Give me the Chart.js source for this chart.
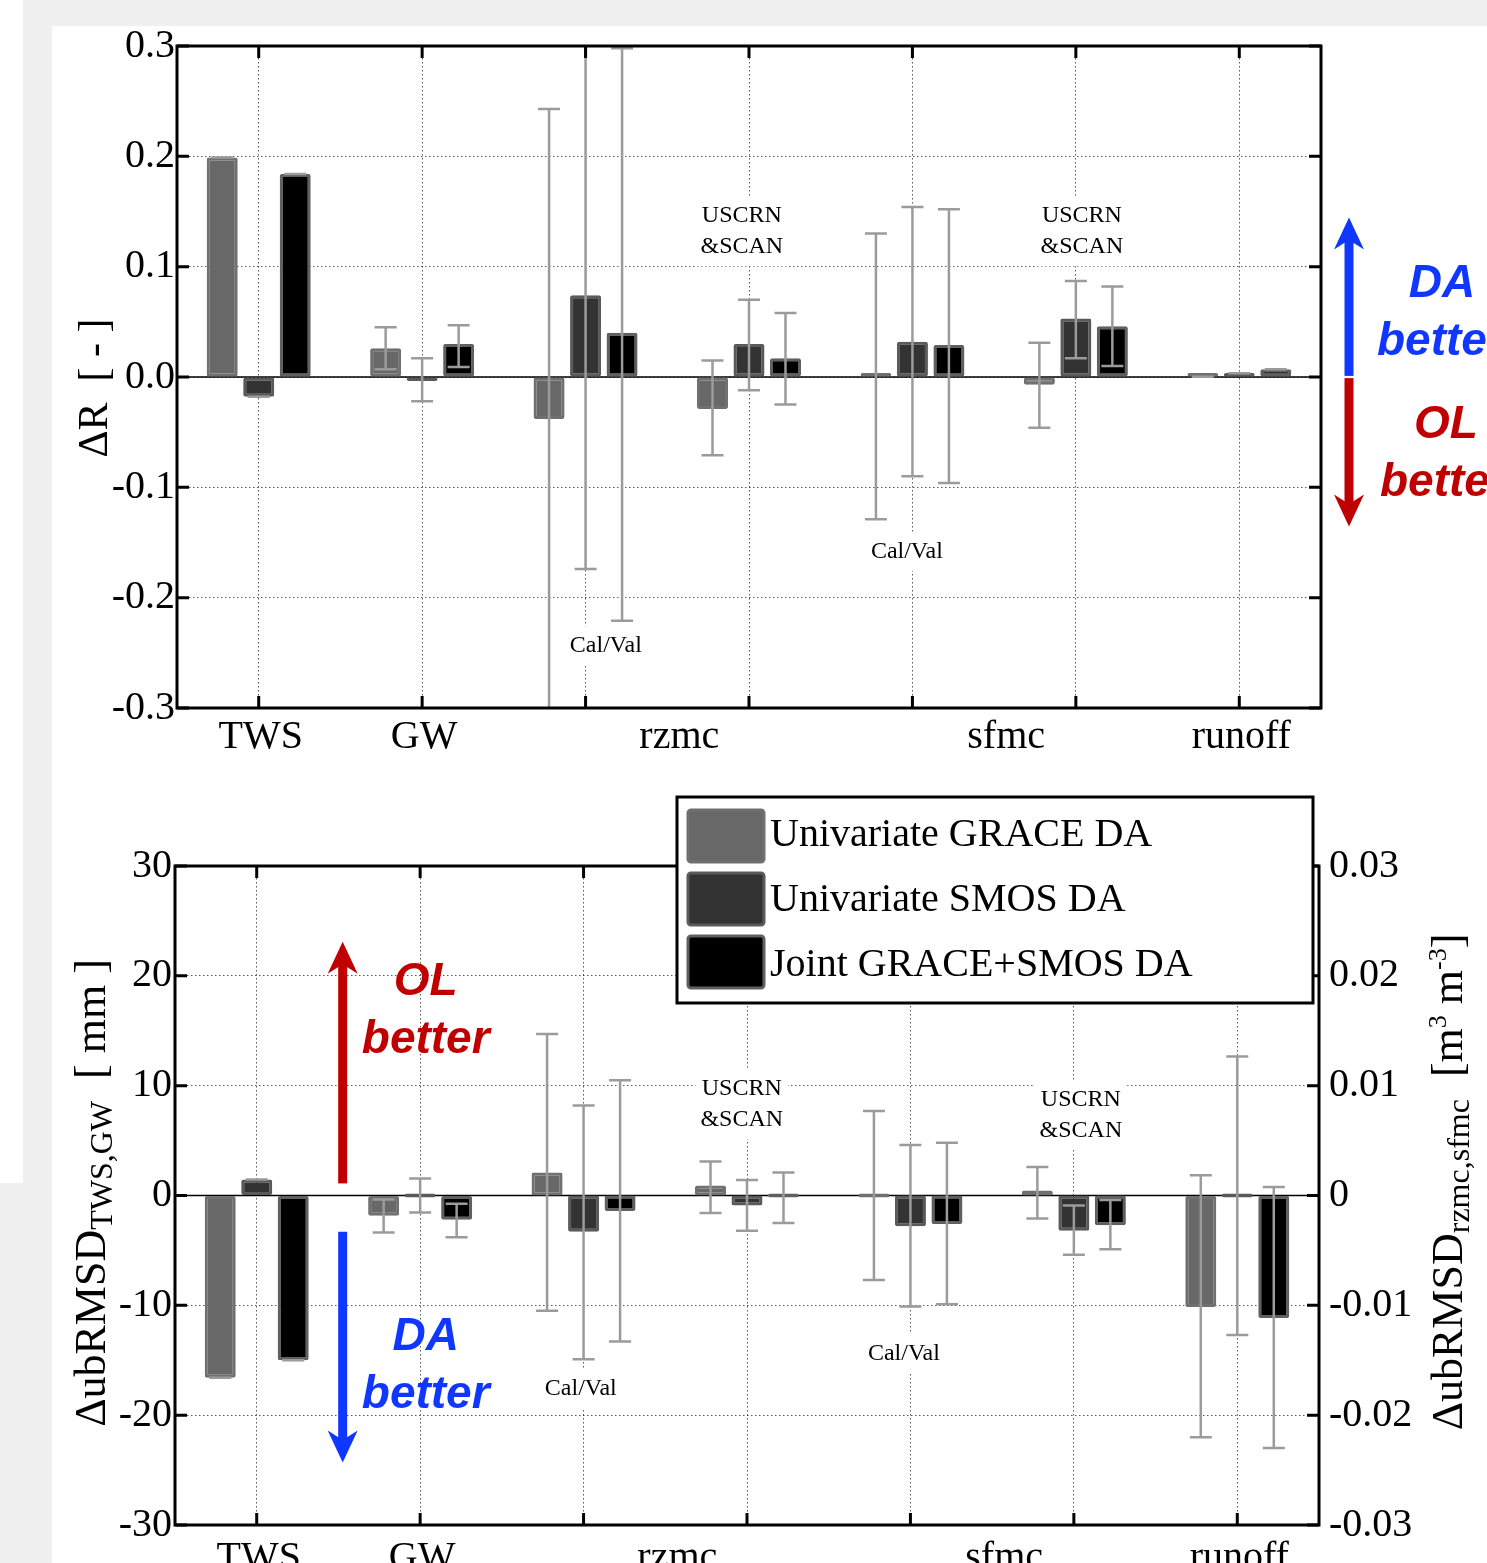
<!DOCTYPE html>
<html><head><meta charset="utf-8">
<script src="https://cdn.jsdelivr.net/npm/chart.js@4.4.1/dist/chart.umd.min.js"></script>
<style>
html,body{margin:0;padding:0;}
body{width:1487px;height:1563px;background:#f0f0f0;position:relative;overflow:hidden;}
#strip{position:absolute;left:0;top:0;width:23px;height:1183px;background:#fff;}
#panel{position:absolute;left:52px;top:26px;width:1435px;height:1537px;background:#fff;}
#c1{position:absolute;left:52px;top:0;}
#c2{position:absolute;left:52px;top:778px;}
</style></head><body>
<div id="strip"></div><div id="panel"></div>
<canvas id="c1" width="1435" height="778"></canvas>
<canvas id="c2" width="1435" height="785"></canvas>
<script>
// ---------------- data ----------------
const categories = ['TWS','GW','rzmc','rzmc','sfmc','sfmc','runoff'];
const networks   = ['', '', 'Cal/Val', 'USCRN\n&SCAN', 'Cal/Val', 'USCRN\n&SCAN', ''];
const seriesNames = ['Univariate GRACE DA','Univariate SMOS DA','Joint GRACE+SMOS DA'];

// Top panel: ΔR [-]
const rGrace   = [0.199,  0.026, -0.038, -0.029,  0.001, -0.007, 0.0003];
const rGraceLo = [0.199,  0.007, -0.350, -0.071, -0.129, -0.046, 0.0003];
const rGraceHi = [0.199,  0.045,  0.243,  0.015,  0.130,  0.031, 0.0003];
const rSmos    = [-0.018, -0.003, 0.074,  0.030,  0.032,  0.053, 0.0035];
const rSmosLo  = [-0.018, -0.022, -0.174, -0.012, -0.090, 0.017, 0.0035];
const rSmosHi  = [-0.018,  0.017, 0.350,  0.070,  0.154,  0.087, 0.0035];
const rJoint   = [0.184,  0.030,  0.040,  0.017,  0.029,  0.046, 0.007];
const rJointLo = [0.184,  0.009, -0.221, -0.025, -0.096,  0.010, 0.007];
const rJointHi = [0.184,  0.047,  0.298,  0.058,  0.152,  0.082, 0.007];

// Bottom panel: ΔubRMSD for TWS, GW, runoff [mm]
const mmGrace   = [-16.6, -1.85, null, null, null, null, -10.15];
const mmGraceLo = [-16.6, -3.36, null, null, null, null, -22.0];
const mmGraceHi = [-16.6, -0.36, null, null, null, null,  1.85];
const mmSmos    = [ 1.45,  0.0,  null, null, null, null,  0.0];
const mmSmosLo  = [ 1.45, -1.55, null, null, null, null, -12.7];
const mmSmosHi  = [ 1.45,  1.55, null, null, null, null,  12.65];
const mmJoint   = [-15.0, -2.2,  null, null, null, null, -11.15];
const mmJointLo = [-15.0, -3.8,  null, null, null, null, -23.0];
const mmJointHi = [-15.0, -0.76, null, null, null, null,  0.77];
// Bottom panel: ΔubRMSD for rzmc, sfmc [m3 m-3]
const m3Grace   = [null, null,  0.0021,  0.0009,  0.0,     0.00045, null];
const m3GraceLo = [null, null, -0.0105, -0.0016, -0.0077, -0.0021,  null];
const m3GraceHi = [null, null,  0.0147,  0.0031,  0.0077,  0.0026,  null];
const m3Smos    = [null, null, -0.0033, -0.0009, -0.0028, -0.0032,  null];
const m3SmosLo  = [null, null, -0.0149, -0.0032, -0.0101, -0.0054,  null];
const m3SmosHi  = [null, null,  0.0082,  0.0014,  0.0046, -0.0009,  null];
const m3Joint   = [null, null, -0.0014,  0.0,    -0.0026, -0.0027,  null];
const m3JointLo = [null, null, -0.0133, -0.0025, -0.0099, -0.0049,  null];
const m3JointHi = [null, null,  0.0105,  0.0021,  0.0048, -0.0004,  null];

// ---------------- layout / style ----------------
const notesTop = [
  {x: 2.124, y: -0.2436, i: 2}, {x: 2.956, y: 0.132, i: 3},
  {x: 3.966, y: -0.158, i: 4},  {x: 5.037, y: 0.132, i: 5}
];
const notesBottom = [
  {x: 1.983, y: -17.6, i: 2}, {x: 2.968, y: 8.32, i: 3},
  {x: 3.96, y: -14.4, i: 4},  {x: 5.043, y: 7.32, i: 5}
];
const SERIF = '"Liberation Serif","Times New Roman",serif';
const SANS = '"Liberation Sans",Arial,sans-serif';
const GRID = 'rgba(0,0,0,0.65)';
const BLUE = '#0f37ff', RED = '#c00000';
const TICK_FONT = 40;
const barStyle = [
  {backgroundColor:'#686868', borderColor:'#707070'},
  {backgroundColor:'#333333', borderColor:'#5a5a5a'},
  {backgroundColor:'#000000', borderColor:'#606060'}
];
Chart.defaults.font.family = SERIF;
Chart.defaults.color = '#000';

function mkDs(k, data, lo, hi, axis, stack) {
  const d = Object.assign({label: seriesNames[k], data, errLo: lo, errHi: hi, yAxisID: axis,
    borderWidth: 3, borderRadius: 2, borderSkipped: false, minBarLength: 4,
    categoryPercentage: 0.67, barPercentage: 0.85}, barStyle[k]);
  if (stack) d.stack = stack;
  return d;
}

// ---------------- drawing helpers ----------------
function zeroLine(chart, id) {
  const {ctx, chartArea: a} = chart;
  const y = chart.scales[id].getPixelForValue(0);
  ctx.save(); ctx.strokeStyle = '#000'; ctx.lineWidth = 1.5;
  ctx.beginPath(); ctx.moveTo(a.left, y); ctx.lineTo(a.right, y); ctx.stroke(); ctx.restore();
}
function notes(chart, list, yId) {
  const {ctx} = chart; const xs = chart.scales.x, ys = chart.scales[yId];
  ctx.save(); ctx.font = '24px ' + SERIF; ctx.textAlign = 'center'; ctx.textBaseline = 'middle';
  list.forEach(n => {
    const lines = networks[n.i].split('\n');
    const cx = xs.getPixelForValue(n.x), cy = ys.getPixelForValue(n.y);
    const lh = 31, w = Math.max(...lines.map(l => ctx.measureText(l).width));
    const h = lines.length * lh;
    ctx.fillStyle = '#fff'; ctx.fillRect(cx - w/2 - 5, cy - h/2 - 4, w + 10, h + 8);
    ctx.fillStyle = '#000';
    lines.forEach((l, k) => ctx.fillText(l, cx, cy - h/2 + lh/2 + k*lh));
  });
  ctx.restore();
}
function errorBars(chart) {
  const {ctx, chartArea: a} = chart;
  ctx.save();
  ctx.beginPath(); ctx.rect(a.left, a.top, a.right - a.left, a.bottom - a.top); ctx.clip();
  ctx.strokeStyle = '#9b9b9b'; ctx.lineWidth = 2.5;
  chart.data.datasets.forEach((ds, di) => {
    const meta = chart.getDatasetMeta(di);
    const ys = chart.scales[meta.yAxisID];
    meta.data.forEach((bar, j) => {
      const v = ds.data[j];
      if (v === null || v === undefined) return;
      const x = bar.x, y1 = ys.getPixelForValue(ds.errLo[j]), y2 = ys.getPixelForValue(ds.errHi[j]);
      ctx.beginPath();
      ctx.moveTo(x, y1); ctx.lineTo(x, y2);
      ctx.moveTo(x - 11, y1); ctx.lineTo(x + 11, y1);
      ctx.moveTo(x - 11, y2); ctx.lineTo(x + 11, y2);
      ctx.stroke();
    });
  });
  ctx.restore();
}
function frame(chart, leftId, rightId) {
  const {ctx, chartArea: a} = chart; const xs = chart.scales.x;
  ctx.save(); ctx.strokeStyle = '#000'; ctx.lineWidth = 3;
  ctx.strokeRect(a.left, a.top, a.right - a.left, a.bottom - a.top);
  ctx.beginPath();
  categories.forEach((c, i) => {
    const x = xs.getPixelForValue(i);
    ctx.moveTo(x, a.top); ctx.lineTo(x, a.top + 12);
    ctx.moveTo(x, a.bottom); ctx.lineTo(x, a.bottom - 12);
  });
  chart.scales[leftId].ticks.forEach(t => {
    const y = chart.scales[leftId].getPixelForValue(t.value);
    ctx.moveTo(a.left, y); ctx.lineTo(a.left + 12, y);
  });
  chart.scales[rightId].ticks.forEach(t => {
    const y = chart.scales[rightId].getPixelForValue(t.value);
    ctx.moveTo(a.right, y); ctx.lineTo(a.right - 12, y);
  });
  ctx.stroke(); ctx.restore();
}
function xLabels(chart, off) {
  const {ctx, chartArea: a} = chart; const xs = chart.scales.x;
  const groups = [];
  categories.forEach((c, i) => {
    const last = groups[groups.length - 1];
    if (last && last.text === c) last.idx.push(i); else groups.push({text: c, idx: [i]});
  });
  ctx.save(); ctx.font = '40px ' + SERIF; ctx.fillStyle = '#000';
  ctx.textAlign = 'center'; ctx.textBaseline = 'alphabetic';
  groups.forEach(g => {
    const px = g.idx.reduce((s, i) => s + xs.getPixelForValue(i), 0) / g.idx.length;
    ctx.fillText(g.text, px + (g.idx.length > 1 ? 12 : 2), a.bottom + off);
  });
  ctx.restore();
}
function rotatedTitle(ctx, cx, cy, segs) {
  ctx.save(); ctx.translate(cx, cy); ctx.rotate(-Math.PI / 2);
  ctx.fillStyle = '#000'; ctx.textBaseline = 'alphabetic'; ctx.textAlign = 'left';
  let total = 0;
  segs.forEach(s => { ctx.font = s.size + 'px ' + SERIF; s.w = ctx.measureText(s.text).width; total += s.w; });
  let x = -total / 2;
  segs.forEach(s => { ctx.font = s.size + 'px ' + SERIF; ctx.fillText(s.text, x, s.dy || 0); x += s.w; });
  ctx.restore();
}
function arrow(ctx, x, yTail, yTip, color) {
  const dir = Math.sign(yTip - yTail), hl = 32, hw = 15, sw = 4.5;
  const yb = yTip - dir * hl, yn = yTip - dir * hl * 0.7;
  ctx.save(); ctx.fillStyle = color;
  ctx.fillRect(x - sw, Math.min(yTail, yn), 2 * sw, Math.abs(yn - yTail));
  ctx.beginPath(); ctx.moveTo(x, yTip); ctx.lineTo(x + hw, yb); ctx.lineTo(x, yn); ctx.lineTo(x - hw, yb);
  ctx.closePath(); ctx.fill(); ctx.restore();
}
function bigText(ctx, text, x, y, color, align) {
  ctx.save(); ctx.font = 'italic bold 46px ' + SANS; ctx.fillStyle = color;
  ctx.textAlign = align; ctx.textBaseline = 'middle'; ctx.fillText(text, x, y); ctx.restore();
}
function legendBox(chart) {
  const {ctx, chartArea: a} = chart;
  const w = 636, h = 206, x0 = a.right - 6 - w, y0 = a.top - 69;
  ctx.save();
  ctx.fillStyle = '#fff'; ctx.fillRect(x0, y0, w, h);
  ctx.strokeStyle = '#000'; ctx.lineWidth = 3; ctx.strokeRect(x0, y0, w, h);
  ctx.font = '40px ' + SERIF; ctx.textBaseline = 'middle'; ctx.textAlign = 'left';
  chart.data.datasets.slice(0, 3).forEach((ds, k) => {
    const cy = y0 + 39 + k * 63;
    ctx.beginPath(); ctx.roundRect(x0 + 11, cy - 26, 76, 52, 3);
    ctx.fillStyle = ds.backgroundColor; ctx.fill();
    ctx.lineWidth = 3; ctx.strokeStyle = ds.borderColor; ctx.stroke();
    ctx.fillStyle = '#000'; ctx.fillText(ds.label, x0 + 93, cy - 1 + k * 2);
  });
  ctx.restore();
}

// ---------------- top chart ----------------
const topDeco = {
  id: 'topDeco',
  beforeDatasetsDraw(chart) { zeroLine(chart, 'y'); notes(chart, notesTop, 'y'); },
  afterDatasetsDraw(chart) {
    const {ctx, chartArea: a} = chart; const ys = chart.scales.y;
    errorBars(chart); frame(chart, 'y', 'y'); xLabels(chart, 40);
    rotatedTitle(ctx, 55, 388, [{text: 'ΔR  [ - ]', size: 42}]);
    const ax = a.right + 28;
    arrow(ctx, ax, ys.getPixelForValue(0.001), ys.getPixelForValue(0.1445), BLUE);
    arrow(ctx, ax, ys.getPixelForValue(-0.001), ys.getPixelForValue(-0.1355), RED);
    bigText(ctx, 'DA', a.right + 121, ys.getPixelForValue(0.0836), BLUE, 'center');
    bigText(ctx, 'better', a.right + 56, ys.getPixelForValue(0.031), BLUE, 'left');
    bigText(ctx, 'OL', a.right + 125, ys.getPixelForValue(-0.044), RED, 'center');
    bigText(ctx, 'better', a.right + 59, ys.getPixelForValue(-0.0964), RED, 'left');
  }
};
new Chart(document.getElementById('c1'), {
  type: 'bar',
  data: { labels: categories, datasets: [
    mkDs(0, rGrace, rGraceLo, rGraceHi, 'y'),
    mkDs(1, rSmos, rSmosLo, rSmosHi, 'y'),
    mkDs(2, rJoint, rJointLo, rJointHi, 'y')
  ]},
  options: {
    responsive: false, animation: false, devicePixelRatio: 1,
    layout: { padding: { top: 46, right: 166, left: 0, bottom: 0 } },
    plugins: { legend: { display: false }, tooltip: { enabled: false } },
    scales: {
      x: { offset: true, grid: { offset: false, drawTicks: false, color: GRID, lineWidth: 1 },
           border: { display: false, dash: [1.5, 2.5] }, ticks: { display: false },
           afterFit: s => { s.height = 70; s.paddingLeft = 0; s.paddingRight = 0; } },
      y: { min: -0.3, max: 0.3, grid: { drawTicks: false, color: GRID, lineWidth: 1 },
           border: { display: false, dash: [1.5, 2.5] },
           ticks: { stepSize: 0.1, padding: 2, color: '#000', font: { size: TICK_FONT, family: SERIF },
                    callback: v => Math.abs(v) < 1e-9 ? '0.0' : v.toFixed(1) },
           afterFit: s => { s.width = 125; s.paddingTop = 0; s.paddingBottom = 0; } }
    }
  },
  plugins: [topDeco]
});

// ---------------- bottom chart ----------------
const bottomDeco = {
  id: 'bottomDeco',
  beforeDatasetsDraw(chart) { zeroLine(chart, 'y'); notes(chart, notesBottom, 'y'); },
  afterDatasetsDraw(chart) {
    const {ctx} = chart; const ys = chart.scales.y, xs = chart.scales.x;
    errorBars(chart); frame(chart, 'y', 'y2'); xLabels(chart, 44);
    rotatedTitle(ctx, 53, 415, [
      {text: 'ΔubRMSD', size: 44}, {text: 'TWS,GW', size: 32, dy: 7}, {text: '  [ mm ]', size: 44}]);
    rotatedTitle(ctx, 1410, 404, [
      {text: 'ΔubRMSD', size: 44}, {text: 'rzmc,sfmc', size: 32, dy: 7}, {text: '  [m', size: 44},
      {text: '3', size: 26, dy: -16}, {text: ' m', size: 44}, {text: '-3', size: 26, dy: -16}, {text: ']', size: 44}]);
    const ax = xs.getPixelForValue(0.526), tx = xs.getPixelForValue(1.034);
    arrow(ctx, ax, ys.getPixelForValue(1.1), ys.getPixelForValue(23.1), RED);
    arrow(ctx, ax, ys.getPixelForValue(-3.3), ys.getPixelForValue(-24.3), BLUE);
    bigText(ctx, 'OL', tx, ys.getPixelForValue(19.4), RED, 'center');
    bigText(ctx, 'better', tx, ys.getPixelForValue(14.1), RED, 'center');
    bigText(ctx, 'DA', tx, ys.getPixelForValue(-12.95), BLUE, 'center');
    bigText(ctx, 'better', tx, ys.getPixelForValue(-18.2), BLUE, 'center');
  },
  afterDraw(chart) { legendBox(chart); }
};
new Chart(document.getElementById('c2'), {
  type: 'bar',
  data: { labels: categories, datasets: [
    mkDs(0, mmGrace, mmGraceLo, mmGraceHi, 'y', 'grace'),
    mkDs(1, mmSmos, mmSmosLo, mmSmosHi, 'y', 'smos'),
    mkDs(2, mmJoint, mmJointLo, mmJointHi, 'y', 'joint'),
    mkDs(0, m3Grace, m3GraceLo, m3GraceHi, 'y2', 'grace'),
    mkDs(1, m3Smos, m3SmosLo, m3SmosHi, 'y2', 'smos'),
    mkDs(2, m3Joint, m3JointLo, m3JointHi, 'y2', 'joint')
  ]},
  options: {
    responsive: false, animation: false, devicePixelRatio: 1,
    layout: { padding: { top: 88, right: 0, left: 0, bottom: 0 } },
    plugins: { legend: { display: false }, tooltip: { enabled: false } },
    scales: {
      x: { offset: true, grid: { offset: false, drawTicks: false, color: GRID, lineWidth: 1 },
           border: { display: false, dash: [1.5, 2.5] }, ticks: { display: false },
           afterFit: s => { s.height = 38; s.paddingLeft = 0; s.paddingRight = 0; } },
      y: { position: 'left', stacked: false, min: -30, max: 30,
           grid: { drawTicks: false, color: GRID, lineWidth: 1 },
           border: { display: false, dash: [1.5, 2.5] },
           ticks: { stepSize: 10, padding: 3, color: '#000', font: { size: TICK_FONT, family: SERIF },
                    callback: v => String(Math.round(v)) },
           afterFit: s => { s.width = 123; s.paddingTop = 0; s.paddingBottom = 0; } },
      y2: { position: 'right', stacked: false, min: -0.03, max: 0.03,
           grid: { display: false, drawTicks: false }, border: { display: false },
           ticks: { stepSize: 0.01, padding: 10, color: '#000', font: { size: TICK_FONT, family: SERIF },
                    callback: v => Math.abs(v) < 1e-9 ? '0' : v.toFixed(2) },
           afterFit: s => { s.width = 168; s.paddingTop = 0; s.paddingBottom = 0; } }
    }
  },
  plugins: [bottomDeco]
});
</script></body></html>
